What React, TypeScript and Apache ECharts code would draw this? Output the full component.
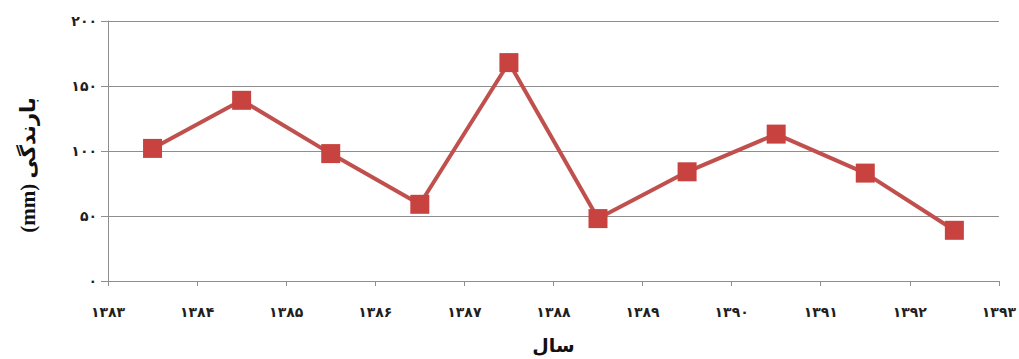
import React, { useEffect, useRef } from "react";
import * as echarts from "echarts";

const years = ["1383", "1384", "1385", "1386", "1387", "1388", "1389", "1390", "1391", "1392"];
const rainfall = [102, 139, 98, 59, 168, 48, 84, 113, 83, 39];
const xTickLabels = ["۱۳۸۳", "۱۳۸۴", "۱۳۸۵", "۱۳۸۶", "۱۳۸۷", "۱۳۸۸", "۱۳۸۹", "۱۳۹۰", "۱۳۹۱", "۱۳۹۲", "۱۳۹۳"];
const yTickValues = [0, 50, 100, 150, 200];
const yTickLabels = ["۰", "۵۰", "۱۰۰", "۱۵۰", "۲۰۰"];
const xAxisTitle = "سال";
const yAxisTitle = "(mm) بارندگی";

export default function App() {
  const ref = useRef<HTMLDivElement>(null);
  useEffect(() => {
    if (!ref.current) return;
    const chart = echarts.init(ref.current, null, { renderer: "svg" });
    const gray = "#8e8e8e";
    chart.setOption({
      animation: false,
      backgroundColor: "#ffffff",
      grid: { left: 108, right: 9, top: 21, bottom: 77, containLabel: false },
      graphic: [
        {
          type: "text",
          x: 28,
          y: 165,
          rotation: Math.PI / 2,
          style: {
            text: yAxisTitle,
            font: "bold 21px 'Liberation Serif', 'DejaVu Sans'",
            fill: "#111",
            align: "center",
            verticalAlign: "middle",
          },
        },
      ],
      xAxis: [
        {
          type: "category",
          data: years,
          boundaryGap: true,
          axisLine: { show: true, lineStyle: { color: gray, width: 1 } },
          axisTick: { show: true, length: 5, lineStyle: { color: gray } },
          axisLabel: { show: false },
          splitLine: { show: false },
        },
        {
          type: "value",
          position: "bottom",
          min: 1383,
          max: 1393,
          interval: 1,
          axisLine: { show: false },
          axisTick: { show: false },
          splitLine: { show: false },
          axisLabel: {
            margin: 24,
            fontSize: 14,
            fontWeight: "bold",
            color: "#1f1f1f",
            fontFamily: "DejaVu Sans",
            formatter: (v: number) => xTickLabels[Math.round(v - 1383)] ?? "",
          },
          name: xAxisTitle,
          nameLocation: "middle",
          nameGap: 54,
          nameTextStyle: { fontSize: 19, fontWeight: "bold", color: "#111", fontFamily: "DejaVu Sans" },
        },
      ],
      yAxis: {
        type: "value",
        min: 0,
        max: 200,
        interval: 50,
        axisLine: { show: true, lineStyle: { color: gray, width: 1 } },
        axisTick: { show: true, length: 7, lineStyle: { color: gray } },
        splitLine: { show: true, lineStyle: { color: gray, width: 1 } },
        axisLabel: {
          margin: 11,
          fontSize: 14,
          fontWeight: "bold",
          color: "#1f1f1f",
          fontFamily: "DejaVu Sans",
          formatter: (v: number) => yTickLabels[yTickValues.indexOf(v)] ?? "",
        },
      },
      series: [
        {
          type: "line",
          xAxisIndex: 0,
          data: rainfall,
          symbol: "rect",
          symbolSize: 19,
          lineStyle: { color: "#C0504D", width: 4 },
          itemStyle: { color: "#C8423F" },
          z: 3,
        },
      ],
    });
    return () => chart.dispose();
  }, []);
  return <div ref={ref} style={{ position: "fixed", left: 0, top: 0, width: "100vw", height: "100vh" }} />;
}
